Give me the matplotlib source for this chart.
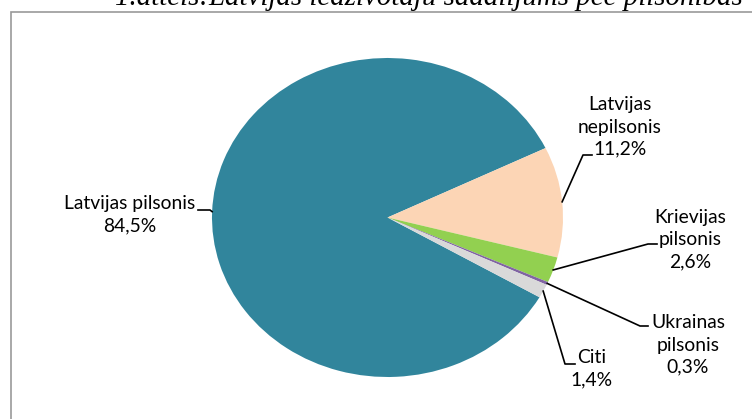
import numpy as np
import matplotlib.pyplot as plt
from matplotlib.patches import Rectangle

# data
categories = ["Latvijas pilsonis", "Latvijas nepilsonis", "Krievijas pilsonis",
              "Ukrainas pilsonis", "Citi"]
shares = [84.5, 11.2, 2.6, 0.3, 1.4]
label_names = ["Latvijas pilsonis", "Latvijas\nnepilsonis", "Krievijas\npilsonis",
               "Ukrainas\npilsonis", "Citi"]
colors = ["#31859C", "#FCD5B5", "#92D050", "#8064A2", "#D9D9D9"]
title = "1.attēls:Latvijas iedzīvotāju sadalījums pēc pilsonības"

W, H = 752, 419
CX, CY, RX, RY = 387.5, 217.5, 175.5, 159.5   # pie centre / radii in pixels


def px(x, y):
    # pixel (from top-left) -> data coords of the full-figure axes
    return (x - CX) / RX, (CY - y) / RY


# label centres and leader elbows (pixels)
label_pos = [(130, 215), (620, 127), (690, 240), (688, 345), (592, 369)]
elbows = [((210, 210), (198, 210)),
          ((583, 155), (592, 155)),
          ((648, 244), (657, 244)),
          ((640, 326), (648, 326)),
          ((565, 364), (575, 364))]

fig = plt.figure(figsize=(W / 100, H / 100), dpi=100)
ax = fig.add_axes([0, 0, 1, 1])
wedges, _ = ax.pie(shares, colors=colors, startangle=-30, counterclock=False,
                   wedgeprops=dict(linewidth=0))
ax.set_aspect('auto')
ax.set_xlim(px(0, 0)[0], px(W, 0)[0])
ax.set_ylim(px(0, H)[1], px(0, 0)[1])
ax.axis('off')

font = dict(family=['Lato', 'DejaVu Sans'], fontsize=13.9, color='black')
for w, name, v, pos, (e1, e2) in zip(wedges, label_names, shares, label_pos, elbows):
    mid = np.deg2rad((w.theta1 + w.theta2) / 2)
    x0, y0 = np.cos(mid), np.sin(mid)
    xs = [x0, px(*e1)[0], px(*e2)[0]]
    ys = [y0, px(*e1)[1], px(*e2)[1]]
    ax.plot(xs, ys, color='black', lw=1.2)
    txt = name + "\n" + ("%.1f%%" % v).replace('.', ',')
    ax.text(*px(*pos), txt, ha='center', va='center', linespacing=1.38, **font)

# chart border (runs off the right and bottom)
fig.patches.append(Rectangle((10.5 / W, -0.1), 1.2, 1 - 12.5 / H + 0.1,
                             transform=fig.transFigure, fill=False,
                             edgecolor='#999999', lw=1.2))
fig.text(115 / W, 1 - 5 / H, title, ha='left', va='baseline',
         family='Liberation Serif', style='italic', fontsize=20.8)

fig.savefig('out.png', dpi=100)
